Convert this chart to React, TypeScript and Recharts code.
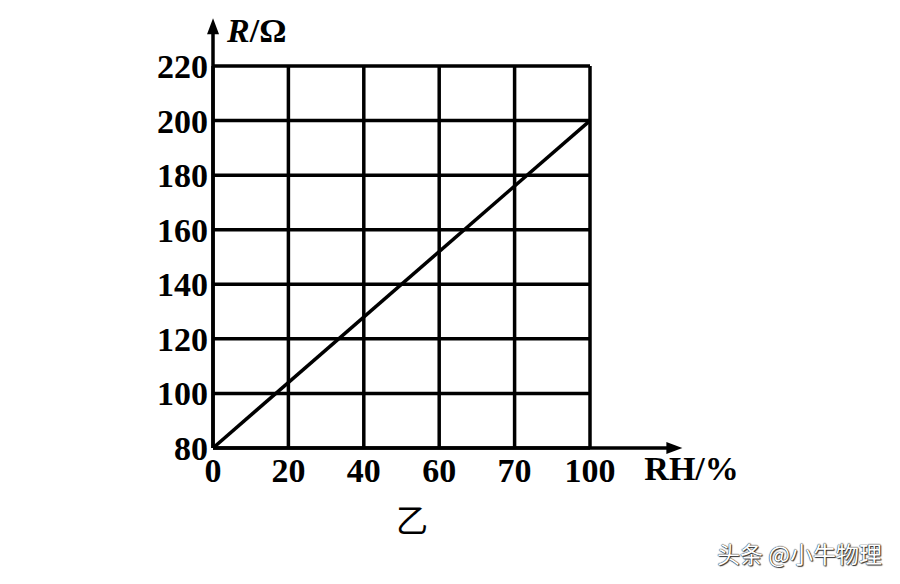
import React from 'react';
import { LineChart, Line, XAxis, YAxis, CartesianGrid, ReferenceLine } from 'recharts';

// humidity (RH %) vs. resistance (Ω)
const rhValues = [0, 100];
const resistanceValues = [80, 200];

const rhTicks = [0, 20, 40, 60, 80, 100];
const rhTickLabels = ['0', '20', '40', '60', '70', '100']; // printed as in the original figure
const rTicks = [80, 100, 120, 140, 160, 180, 200, 220];

const data = rhValues.map((rh, i) => ({ rh, r: resistanceValues[i] }));

const serif = '"Liberation Serif", "DejaVu Serif", serif';

const Arrow = (props: any) => {
  const { x1, y1, x2, y2, label, labelDx, labelDy, italicFirst } = props;
  const len = Math.hypot(x2 - x1, y2 - y1) || 1;
  const ux = (x2 - x1) / len;
  const uy = (y2 - y1) / len;
  const head = 16;
  const half = 6;
  const bx = x2 - ux * head;
  const by = y2 - uy * head;
  const pts = `${x2},${y2} ${bx - uy * half},${by + ux * half} ${bx + uy * half},${by - ux * half}`;
  return (
    <g>
      <line x1={x1} y1={y1} x2={bx + ux * 2} y2={by + uy * 2} stroke="#000" strokeWidth={3.5} />
      <polygon points={pts} fill="#000" />
      <text
        x={x2 + labelDx}
        y={y2 + labelDy}
        fontFamily={serif}
        fontWeight="bold"
        fontSize={34}
        fill="#000"
      >
        {italicFirst ? (
          <>
            <tspan fontStyle="italic">{label[0]}</tspan>
            <tspan>{label.slice(1)}</tspan>
          </>
        ) : (
          label
        )}
      </text>
    </g>
  );
};

export default function App() {
  return (
    <div style={{ position: 'absolute', left: 0, top: 0, width: 900, height: 584, background: '#fff' }}>
      <LineChart width={900} height={584} data={data} margin={{ top: 66, right: 310, bottom: 76, left: 153 }}>
        <CartesianGrid stroke="#000" strokeWidth={3.5} horizontalValues={rTicks} verticalValues={rhTicks} />
        <XAxis
          dataKey="rh"
          type="number"
          domain={[0, 100]}
          ticks={rhTicks}
          allowDataOverflow
          axisLine={false}
          tickLine={false}
          tickSize={0}
          tickMargin={10}
          height={60}
          tickFormatter={(v: number, i: number) => rhTickLabels[i]}
          tick={{ fill: '#000', fontFamily: serif, fontWeight: 'bold', fontSize: 34 }}
        />
        <YAxis
          dataKey="r"
          type="number"
          domain={[80, 220]}
          ticks={rTicks}
          allowDataOverflow
          axisLine={false}
          tickLine={false}
          tickSize={0}
          tickMargin={5}
          width={60}
          tick={{ fill: '#000', fontFamily: serif, fontWeight: 'bold', fontSize: 34 }}
        />
        <ReferenceLine
          segment={[{ x: 0, y: 80 }, { x: 0, y: 237.5 }]}
          ifOverflow="visible"
          shape={(p: any) => <Arrow {...p} label="R/Ω" labelDx={14} labelDy={24} italicFirst />}
        />
        <ReferenceLine
          segment={[{ x: 0, y: 80 }, { x: 124.5, y: 80 }]}
          ifOverflow="visible"
          shape={(p: any) => <Arrow {...p} label="RH/%" labelDx={-38} labelDy={32} />}
        />
        <Line
          type="linear"
          dataKey="r"
          stroke="#000"
          strokeWidth={3.5}
          dot={false}
          isAnimationActive={false}
        />
      </LineChart>
      <div
        style={{
          position: 'absolute',
          left: 396,
          top: 500,
          fontFamily: '"Noto Sans CJK SC", serif',
          fontSize: 32,
          lineHeight: '36px',
        }}
      >
        乙
      </div>
      <div
        style={{
          position: 'absolute',
          left: 717,
          top: 538,
          fontFamily: '"Noto Sans CJK SC", sans-serif',
          fontSize: 23,
          lineHeight: '30px',
          color: '#fff',
          textShadow: '0 0 1px #222, 0 0 1px #222, 1px 1px 1px #333',
        }}
      >
        头条 @小牛物理
      </div>
    </div>
  );
}
